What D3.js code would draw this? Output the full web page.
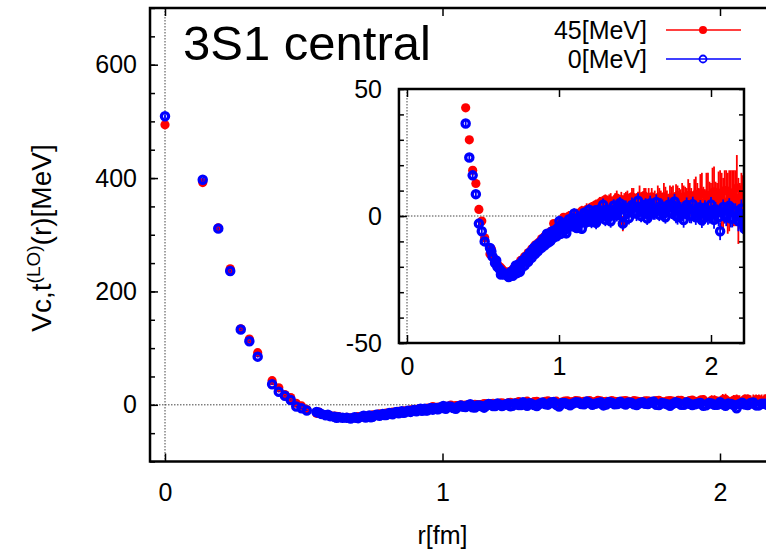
<!DOCTYPE html>
<html>
<head>
<meta charset="utf-8">
<script src="https://cdn.jsdelivr.net/npm/d3@7"></script>
<style>
  body { margin: 0; background: #fff; }
  text { font-family: "Liberation Sans", Arial, sans-serif; }
</style>
</head>
<body>
<div id="chart"></div>
<script>
// on-axis lattice points: r [fm] (same for both energies)
const radius = [0, 0.136, 0.192, 0.235, 0.273, 0.304, 0.334, 0.386, 0.41, 0.432, 0.453, 0.473, 0.492, 0.511,
  0.546, 0.563, 0.579, 0.595, 0.61, 0.626, 0.64, 0.669, 0.683, 0.696, 0.71, 0.723, 0.736, 0.748, 0.761, 0.773,
  0.785, 0.797, 0.808, 0.82, 0.831, 0.842, 0.853, 0.864, 0.875, 0.885, 0.896, 0.906, 0.916, 0.926, 0.936, 0.946,
  0.956, 0.965, 0.975, 0.984, 0.994, 1.003, 1.012,
  1.03, 1.048, 1.066, 1.083, 1.1, 1.117, 1.134, 1.15, 1.166, 1.182, 1.198, 1.214, 1.229, 1.244, 1.26, 1.275,
  1.29, 1.305, 1.32, 1.34, 1.36, 1.38, 1.4,
  1.42, 1.44, 1.46, 1.48, 1.5, 1.52, 1.54, 1.56, 1.58, 1.6, 1.62, 1.64, 1.66, 1.68, 1.7, 1.72, 1.74, 1.76,
  1.78, 1.8, 1.82, 1.84, 1.86, 1.88,
  1.9, 1.92, 1.94, 1.96, 1.98, 2.0, 2.02, 2.04, 2.06, 2.08, 2.1, 2.12, 2.14, 2.16, 2.18, 2.2, 2.22];

// V_C(r) [MeV] at E = 45 MeV
const pot45 = [494, 392, 312, 240, 134, 116, 92, 42.6, 30, 18, 12.8, 2.6, -2, -8.6,
  -15, -16, -18, -19, -20, -21, -22.5, -23, -22.5, -21, -21.5, -19.5, -20, -17.5, -18.5, -16,
  -17, -14.5, -15.5, -13, -14, -11.5, -12.5, -10.5, -11.5, -9, -10, -8, -9, -7, -8, -6,
  -7, -3, -6, -4, -5, -3, -2.5,
  -0.5, -1.5, 0, -0.5, -2, 1, 0, 2, 1, 2.5, 0.5, 3.5, 2, 4.5, 2, 5.5,
  4, 6.5, 3.5, 6, 4.5, 7, 4,
  -3, 6.5, 5, 7.5, 5, 6.5, 4, 8, 5.5, 4.5, 6, 4, 7.5, 5, 6.5, 4.5, 7, 3.5,
  8, 5, 7.5, 5, 8, 4,
  8.5, 5, 9, 4, 8, 6, 9.5, 5, 9, 4, 10, 6, 9, 7, 2, 8, -2];
const err45 = [3, 3, 2, 2, 1.5, 1.5, 1.5, 1, 1, 1, 1, 1, 1, 1,
  1, 1, 1, 1, 1, 1, 1, 1, 1, 1, 1, 1, 1, 1, 1, 1,
  1, 1, 1, 1, 1, 1, 1, 1, 1, 1, 1, 1, 1, 1, 1, 1,
  1, 1, 1, 1, 1, 1, 1,
  1.5, 1.5, 2, 1.5, 2, 1.5, 2, 2, 1.5, 2.5, 2, 2, 2.5, 2, 2.5, 2,
  3, 2, 2.5, 3, 2.5, 3, 2.5,
  3, 3, 2.5, 3.5, 3, 3, 4, 3, 3.5, 4, 3, 4.5, 3.5, 4, 5, 3.5, 4.5, 5,
  4, 5.5, 4.5, 6, 5, 5.5,
  7, 6, 8, 6.5, 9, 7, 10, 8, 9, 11, 8, 12, 9, 11, 13, 9, 10];

// V_C(r) [MeV] at E = 0 MeV
const pot0 = [509, 397, 311, 236, 133, 112, 85, 36.4, 23, 16, 8.6, -3, -6, -10,
  -12.6, -16, -18.5, -20, -21, -22, -23, -24, -22, -23.5, -20.5, -22.5, -19, -21, -17.5, -19.5,
  -16, -18, -14.5, -16.5, -13, -15, -11.5, -13.5, -10.5, -12.5, -9, -11.5, -8, -10.5, -7, -9.5,
  -6, -8.5, -5.5, -8, -4.5, -2, -7,
  -3.3, -6.8, -1.3, -4, 1, -4.7, -1.3, -5, 1.3, -2.3, 2.5, -2.3, 1, -2.7, 2.5, -0.3,
  4.4, -1.5, 1.7, -2.1, 4.1, 0.3, 5,
  -3, 3.1, -0.8, 4.3, 1.5, 6, 0, 3, -1, 5, 1, 5.5, 0.5, 3.5, -0.5, 4.4, 1.3, 5.7,
  -0.4, 2.5, -1.6, 4.3, 0.2, 4.6,
  -0.5, 2.4, -1.7, 3.2, 0.1, 4.5, -1.5, 1.5, -6, 3.5, -0.5, 4, -1, 2, -2, 3, -5];
const err0 = [3, 3, 2, 2, 1.5, 1.5, 1.5, 1, 1, 1, 1, 1, 1, 1,
  1, 1, 1, 1, 1, 1, 1, 1.5, 1.5, 1.5, 1.5, 1.5, 1.5, 1.5, 1.5, 1.5,
  1.5, 1.5, 1.5, 1.5, 1.5, 1.5, 1.5, 1.5, 1.5, 1.5, 1.5, 1.5, 1.5, 1.5, 1.5, 1.5,
  1.5, 1.5, 1.5, 1.5, 1.5, 2, 2,
  2, 2, 2, 2, 2, 2, 2, 2, 2, 2.5, 2, 2.5, 2, 2.5, 2, 2.5,
  2.5, 2.5, 2.5, 2.5, 2.5, 2.5, 2.5,
  2.5, 3, 2.5, 3, 2.5, 3, 2.5, 3, 2.5, 3, 2.5, 3, 2.5, 3, 2.5, 3, 2.5, 3,
  3, 3, 3, 3, 3, 3,
  3, 3, 3, 3, 3.5, 3, 3.5, 3, 3.5, 3, 3.5, 3, 3.5, 3, 4, 3.5, 4];

// off-axis lattice points (the dense band beyond the minimum)
const radius2 = [0.555, 0.587, 0.618, 0.655, 0.69, 0.716, 0.742, 0.767, 0.79, 0.814,
  0.836, 0.858, 0.88, 0.901, 0.921, 0.941, 0.96, 0.98, 0.999, 1.021,
  1.039, 1.057, 1.075, 1.092, 1.108, 1.125, 1.142, 1.158, 1.174, 1.19,
  1.206, 1.222, 1.237, 1.252, 1.268, 1.283, 1.298, 1.313, 1.33, 1.35,
  1.37, 1.39, 1.41, 1.43, 1.45, 1.47, 1.49, 1.51, 1.53, 1.55,
  1.57, 1.59, 1.61, 1.63, 1.65, 1.67, 1.69, 1.71, 1.73, 1.75,
  1.77, 1.79, 1.81, 1.83, 1.85, 1.87, 1.89, 1.91, 1.93, 1.95,
  1.97, 1.99, 2.01, 2.03, 2.05, 2.07, 2.09, 2.11, 2.13, 2.15,
  2.17, 2.19, 2.21];
const pot45b = [-13, -17.5, -20.5, -22, -21.5, -20, -19, -17.5, -16, -14.5,
  -13, -11.5, -10.5, -9, -8, -7, -6, -5, -4, -3,
  -2.5, -1.5, -1, -0.5, 0, 0.5, 1, 1.5, 2, 1.5,
  3, 2.5, 3.5, 3, 4.5, 3.5, 5, 4, 5.5, 4.5,
  6, 5, 6.5, 5, 7, 5.5, 7, 6, 7.5, 5.5,
  7, 6, 7.5, 5.5, 7, 6, 7.5, 5.5, 7, 6,
  7.5, 5.5, 7, 6.5, 8, 5.5, 7.5, 6, 8.5, 5,
  8, 6.5, 9, 5.5, 8.5, 6, 10, 5, 9, 7,
  11, 4, 6];
const err45b = [1, 1, 1, 1, 1, 1, 1, 1, 1, 1,
  1, 1, 1, 1, 1, 1, 1, 1, 1, 1.5,
  1.5, 1.5, 2, 1.5, 2, 1.5, 2, 2, 2, 2.5,
  2, 2.5, 2, 2.5, 3, 2.5, 3, 2.5, 3, 3,
  3, 3.5, 3, 4, 3, 3.5, 4, 3, 4.5, 3.5,
  4, 5, 3.5, 4.5, 5, 4, 5.5, 4.5, 5, 6,
  5, 5.5, 6, 5, 6.5, 5.5, 7, 7, 8, 6.5,
  9, 7, 10, 8, 9, 11, 8, 12, 9, 11,
  13, 9, 10];
const pot0b = [-14, -17.5, -23, -23, -23, -19.5, -22, -17.5, -18, -15.5,
  -12.5, -14, -11, -10.5, -7, -10, -6, -7.5, -5.5, -3,
  -5.5, -3, -3.5, -0.7, -4.3, -1, -2.7, -1.3, 0.5, -2.2,
  0.1, -0.6, 2.2, -1.6, 1.6, -0.2, 1, 2.6, -0.2, 2,
  1.2, 3.9, 0.1, 3.2, 1.3, 2.4, 4, 1, 3, 2,
  4.5, 0.5, 3.5, 1.5, 2.5, 4, 1, 2.9, 1.8, 4.2,
  0.1, 3, 0.9, 1.8, 3.2, 0.1, 2, 0.9, 3.3, -0.8,
  2.1, 0, 1, 2.5, -0.5, 1.5, 0.5, 3, -1, 2,
  0, 1, -3];
const err0b = [1.5, 1.5, 1.5, 1.5, 1.5, 1.5, 1.5, 1.5, 1.5, 1.5,
  1.5, 1.5, 1.5, 1.5, 1.5, 1.5, 1.5, 1.5, 1.5, 2,
  2, 2, 2, 2, 2, 2, 2, 2, 2, 2,
  2, 2.5, 2, 2.5, 2, 2.5, 2, 2.5, 2.5, 2.5,
  2.5, 3, 2.5, 3, 2.5, 3, 2.5, 3, 2.5, 3,
  2.5, 3, 2.5, 3, 2.5, 3, 2.5, 3, 2.5, 3,
  3, 3, 3, 3, 3, 3, 3, 3, 3, 3,
  3, 3, 3.5, 3, 3.5, 3, 3.5, 3, 3.5, 3,
  4, 3.5, 4];

const seriesNames = ["45[MeV]", "0[MeV]"];
const seriesColors = ["#ff0000", "#0000ff"];
const rTicks = [0, 1, 2];
const mainVTicks = [0, 200, 400, 600];
const insetVTicks = [-50, 0, 50];

const W = 766, H = 550;
const svg = d3.select("#chart").append("svg")
  .attr("width", W).attr("height", H);

// main panel
const xMain = d3.scaleLinear().domain([0, 2]).range([165, 720]);
const yMain = d3.scaleLinear().domain([-100, 700]).range([461.5, 8]);
// inset panel
const xIn = d3.scaleLinear().domain([0, 2]).range([407, 711]);
const yIn = d3.scaleLinear().domain([-50, 50]).range([343, 89]);

const plainFmt = d => String(d);

const toPts = (rs, vs, es) => rs.map((r, i) => ({r: r, v: vs[i], e: es[i]}));
const data45 = toPts(radius, pot45, err45).concat(toPts(radius2, pot45b, err45b));
const data0 = toPts(radius, pot0, err0).concat(toPts(radius2, pot0b, err0b));

function drawPanel(x, y, xDom, clipId) {
  const [x0, x1] = xDom.map(x);
  const [y0, y1] = y.domain().map(y);
  const g = svg.append("g");

  g.append("rect").attr("x", x0).attr("y", y1).attr("width", x1 - x0).attr("height", y0 - y1)
    .attr("fill", "#fff");
  g.append("clipPath").attr("id", clipId)
    .append("rect").attr("x", x0).attr("y", y1).attr("width", x1 - x0).attr("height", y0 - y1);

  const plot = g.append("g").attr("clip-path", `url(#${clipId})`);

  // zero lines
  plot.append("line").attr("x1", x0).attr("x2", x1).attr("y1", y(0)).attr("y2", y(0))
    .attr("stroke", "#444").attr("stroke-width", 1).attr("stroke-dasharray", "1.5,1.5");
  plot.append("line").attr("x1", x(0)).attr("x2", x(0)).attr("y1", y1).attr("y2", y0)
    .attr("stroke", "#444").attr("stroke-width", 1).attr("stroke-dasharray", "1.5,1.5");

  drawSeries(plot, x, y, data45, seriesColors[0], true);
  drawSeries(plot, x, y, data0, seriesColors[1], false);
  return g;
}

function drawSeries(g, x, y, pts, color, filled) {
  g.append("g").selectAll("line").data(pts).join("line")
    .attr("x1", d => x(d.r)).attr("x2", d => x(d.r))
    .attr("y1", d => y(d.v - d.e)).attr("y2", d => y(d.v + d.e))
    .attr("stroke", color).attr("stroke-width", 1.8);
  g.append("g").selectAll("circle").data(pts).join("circle")
    .attr("cx", d => x(d.r)).attr("cy", d => y(d.v))
    .attr("r", filled ? 4.6 : 3.6)
    .attr("fill", filled ? color : "none")
    .attr("stroke", color).attr("stroke-width", filled ? 0 : 3.3);
}

function styleAxis(sel) {
  sel.select(".domain").remove();
  sel.selectAll(".tick line").attr("stroke", "#000").attr("stroke-width", 1.5);
  sel.selectAll("text").attr("fill", "#000");
  sel.attr("font-size", 25).attr("font-family", "Liberation Sans, Arial, sans-serif");
}

function frame(x, y, xDom) {
  const [x0, x1] = xDom.map(x);
  const [y0, y1] = y.domain().map(y);
  svg.append("rect").attr("x", x0).attr("y", y1).attr("width", x1 - x0).attr("height", y0 - y1)
    .attr("fill", "none").attr("stroke", "#000").attr("stroke-width", 2.5);
}

// ---------- main plot ----------
const mainXDom = [-0.054, 2.2];
drawPanel(xMain, yMain, mainXDom, "clipMain");

const [mx0, mx1] = mainXDom.map(xMain);
svg.append("g").attr("transform", `translate(${mx0},0)`)
  .call(d3.axisLeft(yMain).tickValues(d3.range(-100, 701, 50)).tickSize(-5).tickFormat(""))
  .call(styleAxis);
svg.append("g").attr("transform", `translate(${mx0},0)`)
  .call(d3.axisLeft(yMain).tickValues(mainVTicks).tickSize(-8).tickPadding(13).tickFormat(plainFmt))
  .call(styleAxis);
svg.append("g").attr("transform", `translate(0,${yMain(-100)})`)
  .call(d3.axisBottom(xMain).tickValues(rTicks).tickSize(-8).tickPadding(22).tickFormat(plainFmt))
  .call(styleAxis);
svg.append("g").attr("transform", `translate(0,${yMain(700)})`)
  .call(d3.axisTop(xMain).tickValues(rTicks).tickSize(-8).tickFormat(""))
  .call(styleAxis);
frame(xMain, yMain, mainXDom);

// axis titles
svg.append("text").attr("x", xMain(1)).attr("y", 544)
  .attr("text-anchor", "middle").attr("font-size", 25).text("r[fm]");

const ylab = svg.append("text")
  .attr("transform", "translate(51,238) rotate(-90)")
  .attr("text-anchor", "middle").attr("font-size", 28);
ylab.append("tspan").text("Vc,t");
ylab.append("tspan").attr("dy", -11).attr("font-size", 19).text("(LO)");
ylab.append("tspan").attr("dy", 11).text("(r)[MeV]");

// title
svg.append("text").attr("x", 183).attr("y", 60)
  .attr("font-family", "Noto Sans CJK SC, Noto Sans, sans-serif")
  .attr("font-size", 49).text("3S1 central");

// legend
const legend = svg.append("g");
seriesNames.forEach((name, i) => {
  const ly = 30 + i * 29;
  legend.append("text").attr("x", 647).attr("y", ly).attr("dy", "0.35em")
    .attr("text-anchor", "end").attr("font-size", 25).text(name);
  legend.append("line").attr("x1", 666).attr("x2", 741).attr("y1", ly).attr("y2", ly)
    .attr("stroke", seriesColors[i]).attr("stroke-width", 1.5);
  legend.append("circle").attr("cx", 703).attr("cy", ly).attr("r", i === 0 ? 4 : 3.5)
    .attr("fill", i === 0 ? seriesColors[i] : "none")
    .attr("stroke", seriesColors[i]).attr("stroke-width", i === 0 ? 0 : 1.8);
});

// ---------- inset ----------
const inXDom = [-0.053, 2.217];
drawPanel(xIn, yIn, inXDom, "clipIn");
const [ix0, ix1] = inXDom.map(xIn);
svg.append("g").attr("transform", `translate(${ix0},0)`)
  .call(d3.axisLeft(yIn).tickValues(d3.range(-50, 51, 10)).tickSize(-5).tickFormat(""))
  .call(styleAxis);
svg.append("g").attr("transform", `translate(${ix0},0)`)
  .call(d3.axisLeft(yIn).tickValues(insetVTicks).tickSize(-8).tickPadding(17).tickFormat(plainFmt))
  .call(styleAxis);
svg.append("g").attr("transform", `translate(${ix1},0)`)
  .call(d3.axisRight(yIn).tickValues(d3.range(-50, 51, 10)).tickSize(-5).tickFormat(""))
  .call(styleAxis);
svg.append("g").attr("transform", `translate(0,${yIn(-50)})`)
  .call(d3.axisBottom(xIn).tickValues(rTicks).tickSize(-8).tickPadding(14).tickFormat(plainFmt))
  .call(styleAxis);
svg.append("g").attr("transform", `translate(0,${yIn(50)})`)
  .call(d3.axisTop(xIn).tickValues(rTicks).tickSize(-8).tickFormat(""))
  .call(styleAxis);
frame(xIn, yIn, inXDom);
</script>
</body>
</html>
